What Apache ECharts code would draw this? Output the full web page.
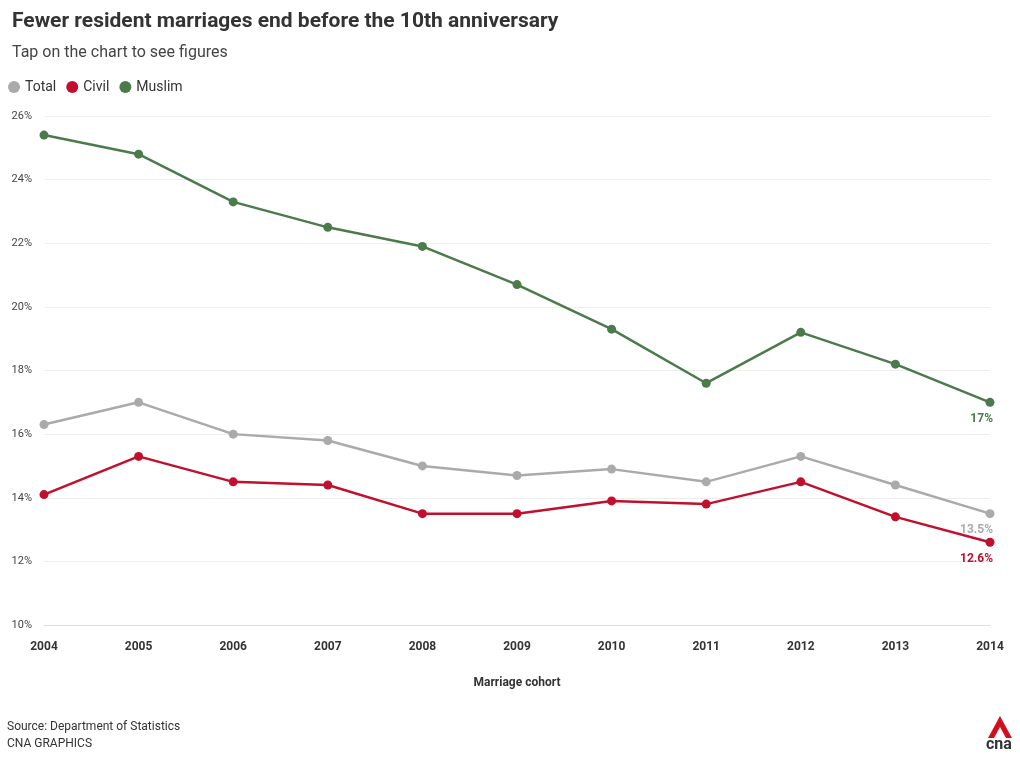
<!DOCTYPE html>
<html><head><meta charset="utf-8">
<script src="https://cdn.jsdelivr.net/npm/echarts@6/dist/echarts.min.js"></script>
<style>html,body{margin:0;padding:0;background:#fff}#c{width:1020px;height:760px}</style>
</head><body><div id="c"></div>
<script>
const categories = ['2004','2005','2006','2007','2008','2009','2010','2011','2012','2013','2014'];
const totalValues = [16.3,17.0,16.0,15.8,15.0,14.7,14.9,14.5,15.3,14.4,13.5];
const civilValues = [14.1,15.3,14.5,14.4,13.5,13.5,13.9,13.8,14.5,13.4,12.6];
const muslimValues = [25.4,24.8,23.3,22.5,21.9,20.7,19.3,17.6,19.2,18.2,17.0];
const endLabels = ['13.5%','12.6%','17%'];
const colors = {Total:'#aaaaaa', Civil:'#c0102e', Muslim:'#4b7a4b'};
const F = 'Roboto, "Noto Sans", sans-serif';
function mk(name, data, label){
  return {name, type:'line', data, symbol:'circle', symbolSize:9,
    lineStyle:{width:2.5,color:colors[name]}, itemStyle:{color:colors[name]},
    label:{show:true, position:'bottom', distance:6, align:'right', offset:[3,0],
      fontFamily:F, fontWeight:'bold', fontSize:12, color:colors[name],
      formatter:p=>p.dataIndex===data.length-1?label:''}};
}
const chart = echarts.init(document.getElementById('c'));
chart.setOption({
  animation:false,
  title:[{text:'Fewer resident marriages end before the 10th anniversary',left:7,top:6,
    textStyle:{fontFamily:F,fontSize:21,fontWeight:'bold',color:'#333'}},
    {text:'Tap on the chart to see figures',left:7,top:40,textStyle:{fontFamily:F,fontSize:16,fontWeight:'normal',color:'#444'}}],
  legend:{left:3,top:75,icon:'circle',itemWidth:12,itemHeight:12,itemGap:10,
    textStyle:{fontFamily:F,fontSize:14,color:'#333'},data:['Total','Civil','Muslim']},
  grid:{left:44,right:30,top:116,bottom:135},
  xAxis:{type:'category',data:categories,boundaryGap:false,
    name:'Marriage cohort',nameLocation:'middle',nameGap:52,
    nameTextStyle:{fontFamily:F,fontSize:12,fontWeight:'bold',color:'#333'},
    axisLine:{lineStyle:{color:'#ddd'}},axisTick:{show:false},
    axisLabel:{fontFamily:F,fontSize:12,fontWeight:'bold',color:'#333',margin:16}},
  yAxis:{type:'value',min:10,max:26,interval:2,
    axisLabel:{formatter:'{value}%',fontFamily:F,fontSize:11,color:'#444',margin:12},
    splitLine:{lineStyle:{color:'#eee'}}},
  series:[mk('Total',totalValues,endLabels[0]),mk('Civil',civilValues,endLabels[1]),mk('Muslim',muslimValues,endLabels[2])],
  graphic:[
    {type:'text',left:7,top:721,style:{text:'Source: Department of Statistics',font:'12px '+F,fill:'#333'}},
    {type:'text',left:7,top:738,style:{text:'CNA GRAPHICS',font:'12px '+F,fill:'#333'}},
    {type:'polygon',shape:{points:[[988,738],[1000,716],[1012,738],[1006,738],[1000,727],[994,738]]},style:{fill:'#d0101e'}},
    {type:'text',left:986,top:737,style:{text:'cna',font:'bold 16px '+F,fill:'#333'}}
  ]
});
</script></body></html>
